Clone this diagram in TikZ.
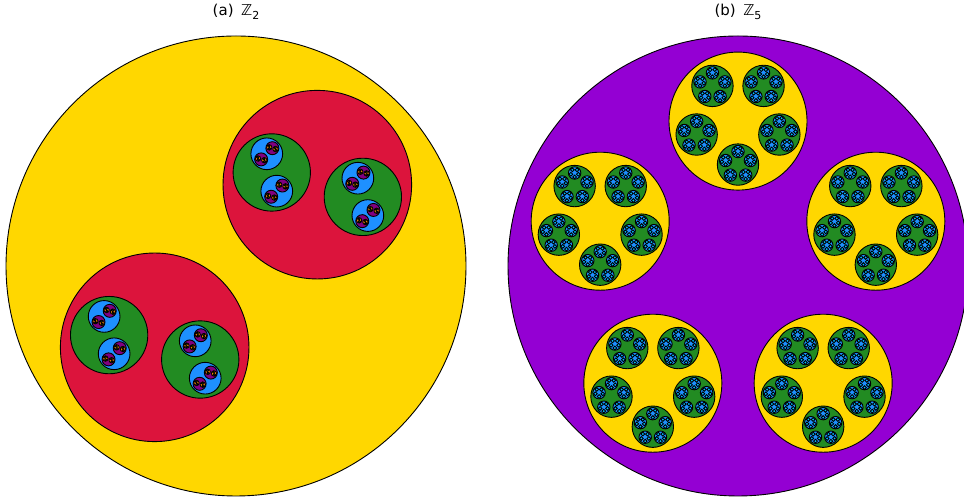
\documentclass[tikz,border=0pt]{standalone}
\usepackage{fontspec}
\setmainfont{DejaVu Sans}
\definecolor{cgold}{RGB}{255,215,0}
\definecolor{ccrimson}{RGB}{220,20,60}
\definecolor{cgreen}{RGB}{34,139,34}
\definecolor{cdodger}{RGB}{30,144,255}
\definecolor{cpurple}{RGB}{128,0,128}
\definecolor{cviolet}{RGB}{148,0,211}
\definecolor{corange}{RGB}{255,140,0}
\definecolor{csky}{RGB}{0,191,255}
\newcommand\fraccolA[1]{\ifcase#1 cgold\or ccrimson\or cgreen\or cdodger\or cpurple\or corange\else cgold\fi}
\newcommand\fraccolB[1]{\ifcase#1 cviolet\or cgold\or cgreen\or cdodger\or csky\else cgold\fi}
\newcommand\fracdraw[5]{%
  \begingroup
  \edef\curcol{\fraccol{#1}}%
  \path[disc, fill=\curcol] (#2,#3) circle[radius=#4];
  \ifnum#1<\FracMax\relax
    \pgfmathsetmacro\fcr{#4*\FracS}%
    \pgfmathsetmacro\fcd{#4*\FracD}%
    \pgfmathsetmacro\fna{#5+\FracRot}%
    \pgfmathtruncatemacro\fnd{#1+1}%
    \foreach \k in {1,...,\FracN} {%
      \pgfmathsetmacro\fcx{#2+\fcd*cos(#5+360*(\k-1)/\FracN)}%
      \pgfmathsetmacro\fcy{#3+\fcd*sin(#5+360*(\k-1)/\FracN)}%
      \edef\fnext{\noexpand\fracdraw{\fnd}{\fcx}{\fcy}{\fcr}{\fna}}%
      \fnext
    }%
  \fi
  \endgroup}
\tikzset{disc/.style={draw=black, line width=0.9}, lbl/.style={font=\fontsize{15}{18}\selectfont, anchor=center}}
\begin{document}
\begin{tikzpicture}[x=1pt,y=1pt]
\useasboundingbox (0,0) rectangle (964,502);
% (a) Z2
\def\FracN{2}\def\FracD{0.5}\def\FracS{0.41}\def\FracRot{-60}\def\FracMax{6}
\let\fraccol\fraccolA
\fracdraw{0}{236}{236}{230}{45}
% (b) Z5
\def\FracN{5}\def\FracD{0.63}\def\FracS{0.30}\def\FracRot{180}\def\FracMax{4}
\let\fraccol\fraccolB
\fracdraw{0}{738}{236}{230}{90}
\node[lbl] (la) at (236,490) {(a)\enspace ℤ\raisebox{-0.3em}{\fontsize{11}{13}\selectfont 2}};
\node[lbl] (lb) at (738,490) {(b)\enspace ℤ\raisebox{-0.3em}{\fontsize{11}{13}\selectfont 5}};
\end{tikzpicture}
\end{document}
